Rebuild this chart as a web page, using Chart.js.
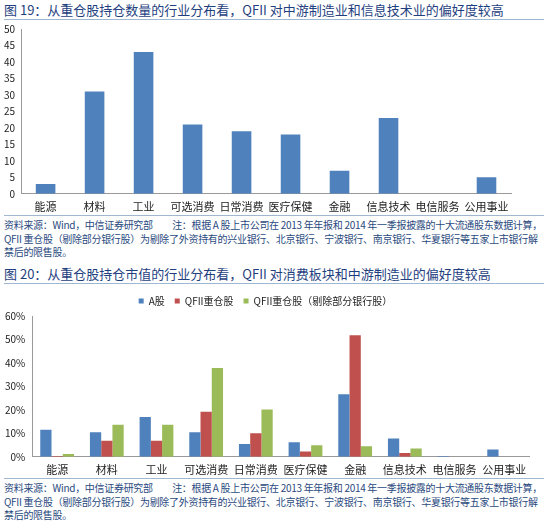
<!DOCTYPE html>
<html><head><meta charset="utf-8">
<script src="https://cdn.jsdelivr.net/npm/chart.js@4"></script>
<style>
body{margin:0;background:#fff;font-family:"Noto Sans CJK SC",sans-serif;width:547px;height:525px;position:relative;overflow:hidden}
.t{position:absolute;left:4px;width:540px;font-size:13px;color:#1f3f7f;border-bottom:1px solid #9fb7d0;padding-bottom:1px;line-height:17px}
.n{position:absolute;left:4px;width:540px;font-size:10px;color:#2a4a80;line-height:13.5px;border-top:1px solid #9fb7d0;padding-top:2px;letter-spacing:-0.3px}
.c{position:absolute;left:0}
</style></head><body>
<div class="t" style="top:1px">图 19：从重仓股持仓数量的行业分布看，QFII 对中游制造业和信息技术业的偏好度较高</div>
<div class="c" style="top:21px;width:547px;height:194px"><canvas id="c1"></canvas></div>
<div class="n" style="top:215px">资料来源：Wind，中信证券研究部　　注：根据 A 股上市公司在 2013 年年报和 2014 年一季报披露的十大流通股东数据计算，QFII 重仓股（剔除部分银行股）为剔除了外资持有的兴业银行、北京银行、宁波银行、南京银行、华夏银行等五家上市银行解禁后的限售股。</div>
<div class="t" style="top:265px">图 20：从重仓股持仓市值的行业分布看，QFII 对消费板块和中游制造业的偏好度较高</div>
<div class="c" style="top:286px;width:547px;height:192px"><canvas id="c2"></canvas></div>
<div class="n" style="top:478px">资料来源：Wind，中信证券研究部　　注：根据 A 股上市公司在 2013 年年报和 2014 年一季报披露的十大流通股东数据计算，QFII 重仓股（剔除部分银行股）为剔除了外资持有的兴业银行、北京银行、宁波银行、南京银行、华夏银行等五家上市银行解禁后的限售股。</div>
<script>
const industries = ['能源','材料','工业','可选消费','日常消费','医疗保健','金融','信息技术','电信服务','公用事业'];
const holdingCount = [3,31,43,21,19,18,7,23,0,5];
const aShare = [11.5,10.5,17,10.5,5.5,6.2,26.7,7.8,0.3,3.1];
const qfiiHeavy = [0.3,6.8,6.8,19.2,10,2.3,51.8,1.6,0,0];
const qfiiExBanks = [1.2,13.7,13.7,37.8,20.2,4.9,4.5,3.5,0,0];

Chart.defaults.font.family = '"Noto Sans CJK SC", sans-serif';
Chart.defaults.color = '#222';
Chart.defaults.animation = false;

const xAxis = {
    grid: {display: false, drawTicks: true, tickLength: 4, color: '#999'},
    border: {color: '#999'},
    ticks: {font: {size: 11}, maxRotation: 0, autoSkip: false, padding: 2}
};

new Chart(document.getElementById('c1'), {
    type: 'bar',
    data: {labels: industries, datasets: [{data: holdingCount, backgroundColor: '#4f81bd', categoryPercentage: 0.4, barPercentage: 1}]},
    options: {
        responsive: true, maintainAspectRatio: false,
        layout: {padding: {left: 2, right: 36, top: 4}},
        plugins: {legend: {display: false}, tooltip: {enabled: false}},
        scales: {
            x: xAxis,
            y: {min: 0, max: 50, ticks: {stepSize: 5, autoSkip: false, font: {size: 10}, padding: 2}, grid: {display: false, tickLength: 4}, border: {color: '#999'}}
        }
    }
});

new Chart(document.getElementById('c2'), {
    type: 'bar',
    data: {labels: industries, datasets: [
        {label: 'A股', data: aShare, backgroundColor: '#4f81bd'},
        {label: 'QFII重仓股', data: qfiiHeavy, backgroundColor: '#c0504d'},
        {label: 'QFII重仓股（剔除部分银行股）', data: qfiiExBanks, backgroundColor: '#9bbb59'}
    ].map(d => Object.assign(d, {categoryPercentage: 0.68, barPercentage: 1}))},
    options: {
        responsive: true, maintainAspectRatio: false,
        layout: {padding: {left: 2, right: 18, top: 0}},
        plugins: {
            legend: {labels: {boxWidth: 5, boxHeight: 5, font: {size: 10}, padding: 10}},
            tooltip: {enabled: false}
        },
        scales: {
            x: xAxis,
            y: {min: 0, max: 60, ticks: {stepSize: 10, autoSkip: false, font: {size: 10}, callback: v => v + '%'}, grid: {display: false, tickLength: 4}, border: {color: '#999'}}
        }
    }
});
</script>
</body></html>
